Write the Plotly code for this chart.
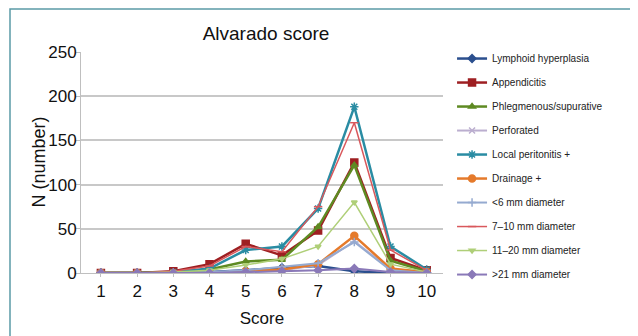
import plotly.graph_objects as go

scores = [1, 2, 3, 4, 5, 6, 7, 8, 9, 10]

lymphoid = [0, 0, 0, 1, 3, 6, 8, 2, 0, 0]
appendicitis = [0, 0, 2, 10, 33, 20, 48, 125, 17, 3]
phlegmenous = [0, 0, 1, 4, 13, 15, 52, 122, 14, 2]
perforated = [0, 0, 0, 0, 1, 3, 9, 36, 4, 1]
local_perit = [0, 0, 1, 5, 26, 30, 73, 188, 30, 4]
drainage = [0, 0, 0, 0, 2, 4, 10, 42, 5, 1]
lt6 = [0, 0, 0, 1, 3, 7, 11, 35, 3, 0]
d7_10 = [0, 0, 2, 8, 30, 24, 75, 170, 26, 3]
d11_20 = [0, 0, 1, 3, 9, 16, 30, 80, 10, 1]
gt21 = [0, 0, 0, 0, 1, 2, 3, 5, 1, 0]

names = ["Lymphoid hyperplasia", "Appendicitis", "Phlegmenous/supurative", "Perforated",
         "Local peritonitis +", "Drainage +", "<6 mm diameter", "7\u201310 mm diameter",
         "11\u201320 mm diameter", ">21 mm diameter"]
series = [lymphoid, appendicitis, phlegmenous, perforated, local_perit, drainage,
          lt6, d7_10, d11_20, gt21]
colors = ["#2B4F8E", "#9E1F22", "#5E8A22", "#BBAECF", "#2A8CA3", "#E57A2B",
          "#95AAD0", "#D9585C", "#AFCF78", "#8A79B8"]
symbols = ["diamond", "square", "triangle-up", "x-thin-open", "asterisk-open", "circle",
           "cross-thin-open", "line-ew-open", "triangle-down", "diamond"]
widths = [2.5, 2.5, 2.5, 2, 2.5, 2.5, 2, 1.5, 1.5, 2]
msizes = [6, 7, 6, 6, 7, 7, 6, 6, 5, 6]

fig = go.Figure()
for i, (n, s) in enumerate(zip(names, series)):
    fig.add_trace(go.Scatter(
        x=scores, y=s, name=n, mode="lines+markers",
        line=dict(color=colors[i], width=widths[i]),
        marker=dict(symbol=symbols[i], size=msizes[i], color=colors[i],
                    line=dict(color=colors[i], width=1.5)),
        legendgroup="g%d" % i,
    ))

W, H = 630, 328  # page adds an 8px body margin
fig.update_layout(
    width=W, height=H,
    margin=dict(l=73, r=195, t=44, b=63),
    paper_bgcolor="white", plot_bgcolor="white",
    font=dict(family="Liberation Sans, Arial, sans-serif", color="#111111"),
    title=dict(text="Alvarado score", x=258 / W, xanchor="center", y=1 - 25 / H,
               yanchor="middle", font=dict(size=19)),
    xaxis=dict(range=[0.45, 10.45], tickvals=scores, ticktext=[str(v) for v in scores],
               showgrid=False, showline=True, linecolor="#BFBFBF", linewidth=1,
               ticks="outside", ticklen=3, tickcolor="#BFBFBF",
               tickfont=dict(size=17), zeroline=False,
               title=dict(text="Score", font=dict(size=17), standoff=11)),
    yaxis=dict(range=[0, 250], tickvals=[0, 50, 100, 150, 200, 250],
               showgrid=True, gridcolor="#C8C8C8", gridwidth=1.5,
               showline=True, linecolor="#BFBFBF", linewidth=1,
               ticks="outside", ticklen=4, tickcolor="#BFBFBF",
               tickfont=dict(size=17), zeroline=False, ticklabelstandoff=-4),
    legend=dict(x=1.025, xanchor="left", y=1.036, yanchor="top",
                font=dict(size=10, color="#222222"), traceorder="grouped",
                tracegroupgap=5, bgcolor="rgba(0,0,0,0)", itemwidth=30,
                maxheight=320),
    annotations=[dict(text="N (number)", xref="paper", yref="paper",
                      x=(38 - 81) / 362, y=0.5, textangle=-90, showarrow=False,
                      xanchor="center", yanchor="middle", font=dict(size=18))],
    shapes=[dict(type="rect", xref="paper", yref="paper",
                 x0=-71 / 362, x1=(631 - 81) / 362, y0=-(345 - 273) / 221,
                 y1=1 + (52 - 9) / 221,
                 line=dict(color="#5B9AA6", width=1.5), fillcolor="rgba(0,0,0,0)")],
)

fig.write_html("out.html")
